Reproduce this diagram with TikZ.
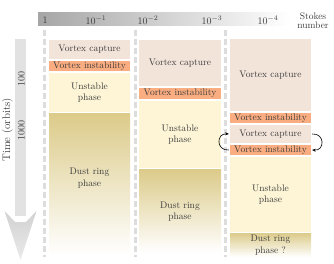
\documentclass[tikz,border=0pt]{standalone}
\usetikzlibrary{arrows.meta}
\definecolor{capc}{HTML}{F3E4DA}
\definecolor{instc}{HTML}{F9AD80}
\definecolor{unstc}{HTML}{FDF5D6}
\definecolor{dustc}{HTML}{DCCB8A}
\definecolor{txtc}{HTML}{3A3A3A}
\definecolor{dashc}{HTML}{DDDDDD}
\definecolor{shaftc}{HTML}{E2E2E2}
\tikzset{
  phbox/.style={rectangle, inner sep=0pt, align=center, text=txtc, font=\fontsize{9.5}{11.5}\selectfont},
  capbox/.style={phbox, fill=capc},
  instbox/.style={phbox, fill=instc},
  unstbox/.style={phbox, fill=unstc},
  dustbox/.style={phbox, top color=dustc, bottom color=white},
  sepline/.style={draw=dashc, line width=3pt, dash pattern=on 6pt off 3pt},
  lbl/.style={text=txtc, font=\fontsize{10}{10}\selectfont, inner sep=0pt},
  looparrow/.style={-{Stealth[length=3.5pt,width=3pt]}, line width=0.6pt, black}
}
\begin{document}
\begin{tikzpicture}[x=1pt,y=-1pt]
\useasboundingbox (0,0) rectangle (334,264);
% Stokes bar
\path[left color=black!35, right color=white] (38,13) rectangle (290,26);
\node[lbl] (s0) at (45,20) {1};
\node[lbl] (s1) at (96,20) {$10^{-1}$};
\node[lbl] (s2) at (148,20) {$10^{-2}$};
\node[lbl] (s3) at (212,20) {$10^{-3}$};
\node[lbl] (s4) at (268,20) {$10^{-4}$};
\node[lbl, align=center, font=\fontsize{9.5}{9}\selectfont] (sn) at (313,20.5) {Stokes\\number};
% time arrow
\fill[shaftc] (15,39) rectangle (26,216);
\path[top color=black!18, bottom color=black!8] (15,222) -- (4.5,211) -- (20.5,260) -- (36.5,211) -- (26,222) -- cycle;
\node[lbl, rotate=90] (t100) at (21.5,79) {100};
\node[lbl, rotate=90] (t1000) at (21.5,131) {1000};
\node[lbl, rotate=90, font=\fontsize{11}{11}\selectfont] (time) at (7.5,130) {Time (orbits)};
% separators
\draw[sepline] (44,30) -- (44,257);
\draw[sepline] (135.5,30) -- (135.5,257);
\draw[sepline] (225.5,30) -- (225.5,257);
% column 1
\node[capbox, minimum width=81, minimum height=19] (a1) at (89.5,49.5) {Vortex capture};
\node[instbox, minimum width=81, minimum height=10] (a2) at (89.5,66) {Vortex instability};
\node[unstbox, minimum width=81, minimum height=39] (a3) at (89.5,92.5) {Unstable\\phase};
\node[dustbox, minimum width=81, minimum height=141] (a4) at (89.5,184.5) {};
\node[phbox] (a4t) at (89.5,178) {Dust ring\\phase};
% column 2
\node[capbox, minimum width=82, minimum height=46] (b1) at (180,63) {Vortex capture};
\node[instbox, minimum width=82, minimum height=11] (b2) at (180,93.5) {Vortex instability};
\node[unstbox, minimum width=82, minimum height=67] (b3) at (180,134.5) {Unstable\\phase};
\node[dustbox, minimum width=82, minimum height=83] (b4) at (180,211.5) {Dust ring\\phase};
% column 3
\node[capbox, minimum width=81, minimum height=72] (c1) at (270.5,75) {Vortex capture};
\node[instbox, minimum width=81, minimum height=10] (c2) at (270.5,118) {Vortex instability};
\node[capbox, minimum width=81, minimum height=18] (c3) at (270.5,134) {Vortex capture};
\node[instbox, minimum width=81, minimum height=10] (c4) at (270.5,150) {Vortex instability};
\node[unstbox, minimum width=81, minimum height=75] (c5) at (270.5,194.5) {Unstable\\phase};
\node[dustbox, minimum width=81, minimum height=24] (c6) at (270.5,245) {Dust ring\\phase ?};
% loops
\draw[looparrow] ([xshift=1pt]c3.east) .. controls (325,133) and (325,151) .. ([xshift=1pt]c4.east);
\draw[looparrow] ([xshift=-1pt]c4.west) .. controls (216,151) and (216,133) .. ([xshift=-1pt]c3.west);
\end{tikzpicture}
\end{document}
